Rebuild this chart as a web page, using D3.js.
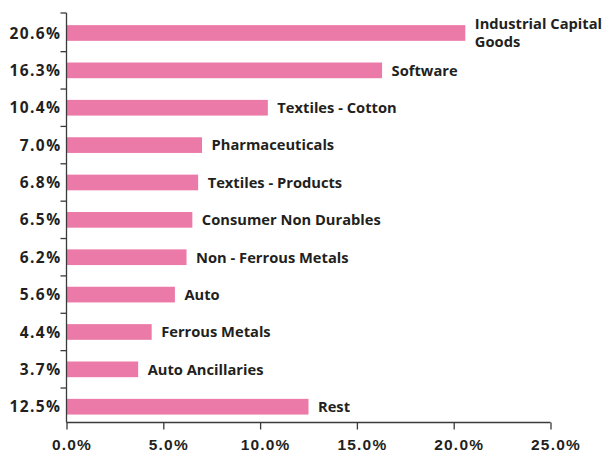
<!DOCTYPE html>
<html>
<head>
<meta charset="utf-8">
<script src="https://cdn.jsdelivr.net/npm/d3@7"></script>
<style>
  html, body { margin: 0; padding: 0; background: #fff; }
  svg { display: block; font-family: "Open Sans", "DejaVu Sans", sans-serif; }
</style>
</head>
<body>
<svg id="chart" width="605" height="452"></svg>
<script>
// Sector allocation (% of portfolio)
const sectors = [
  "Industrial Capital Goods", "Software", "Textiles - Cotton", "Pharmaceuticals",
  "Textiles - Products", "Consumer Non Durables", "Non - Ferrous Metals", "Auto",
  "Ferrous Metals", "Auto Ancillaries", "Rest"
];
const weights = [20.6, 16.3, 10.4, 7.0, 6.8, 6.5, 6.2, 5.6, 4.4, 3.7, 12.5];
const xTicks = [0, 5, 10, 15, 20, 25];

const W = 605;
const axisY = 422.5;     // baseline of the plot
const axisTop = 13;
const textColor = "#231f20";
const axisColor = "#3a3a3a";
const barColor = "#ec7aa8";

const svg = d3.select("#chart");

const x = d3.scaleLinear()
  .domain([0, 25])
  .range([66.5, 550.5]);

const y = d3.scaleBand()
  .domain(sectors)
  .range([14.3, 425.4])
  .paddingInner(0.58)
  .paddingOuter(0.29);

const data = sectors.map((s, i) => ({ sector: s, value: weights[i] }));

// Bars
svg.append("g")
  .selectAll("rect")
  .data(data)
  .join("rect")
  .attr("x", x(0))
  .attr("y", d => y(d.sector))
  .attr("width", d => x(d.value) - x(0))
  .attr("height", y.bandwidth())
  .attr("fill", barColor);

// X axis
const xAxis = svg.append("g")
  .attr("transform", `translate(0,${axisY})`)
  .call(d3.axisBottom(x)
    .tickValues(xTicks)
    .tickSize(7)
    .tickPadding(8)
    .tickFormat(d => d3.format(".1f")(d) + "%"));
xAxis.select(".domain").attr("stroke", axisColor).attr("stroke-width", 1.3)
  .attr("d", `M${x(0)},0H${x(25)}`);
xAxis.selectAll(".tick line").attr("stroke", axisColor).attr("stroke-width", 1.3);
xAxis.selectAll(".tick text")
  .attr("fill", textColor)
  .attr("font-size", 15.5)
  .attr("font-weight", 700)
  .attr("letter-spacing", 1.2)
  .attr("x", 5)
  .attr("dy", "0.78em");

// Y axis line with ticks at band boundaries
const yAxis = svg.append("g");
const step = y.step();
const boundaries = d3.range(sectors.length).map(i => y(sectors[i]) - y.paddingOuter() * step);
boundaries[0] = axisTop;
yAxis.append("line")
  .attr("x1", x(0)).attr("x2", x(0))
  .attr("y1", axisTop).attr("y2", axisY)
  .attr("stroke", axisColor).attr("stroke-width", 1.3);
yAxis.selectAll("line.tick")
  .data(boundaries)
  .join("line")
  .attr("class", "tick")
  .attr("x1", x(0) - 6).attr("x2", x(0))
  .attr("y1", d => d).attr("y2", d => d)
  .attr("stroke", axisColor).attr("stroke-width", 1.3);

// Value labels on the left
yAxis.selectAll("text")
  .data(data)
  .join("text")
  .attr("x", x(0) - 5)
  .attr("y", d => y(d.sector) + y.bandwidth() / 2)
  .attr("dy", "0.36em")
  .attr("text-anchor", "end")
  .attr("fill", textColor)
  .attr("font-size", 15.5)
  .attr("font-weight", 700)
  .attr("letter-spacing", 1.4)
  .text(d => d3.format(".1f")(d.value) + "%");

// Sector names to the right of each bar, wrapped when too long
const labels = svg.append("g")
  .attr("font-size", 14.7)
  .attr("font-weight", 700)
  .attr("fill", textColor);

data.forEach(d => {
  const lx = x(d.value) + 9.5;
  const maxW = W - lx + 2;
  const t = labels.append("text").attr("x", lx);
  const words = d.sector.split(" ");
  const lines = [];
  let line = [];
  const probe = labels.append("text").attr("visibility", "hidden");
  words.forEach(w => {
    const trial = line.concat([w]).join(" ");
    probe.text(trial);
    if (probe.node().getComputedTextLength() > maxW && line.length) {
      lines.push(line.join(" "));
      line = [w];
    } else {
      line.push(w);
    }
  });
  lines.push(line.join(" "));
  probe.remove();
  const cy = y(d.sector) + y.bandwidth() / 2;
  const lh = 18;
  lines.forEach((ln, i) => {
    t.append("tspan")
      .attr("x", lx)
      .attr("y", cy + (i - (lines.length - 1) / 2) * lh)
      .attr("dy", "0.36em")
      .text(ln);
  });
});
</script>
</body>
</html>
